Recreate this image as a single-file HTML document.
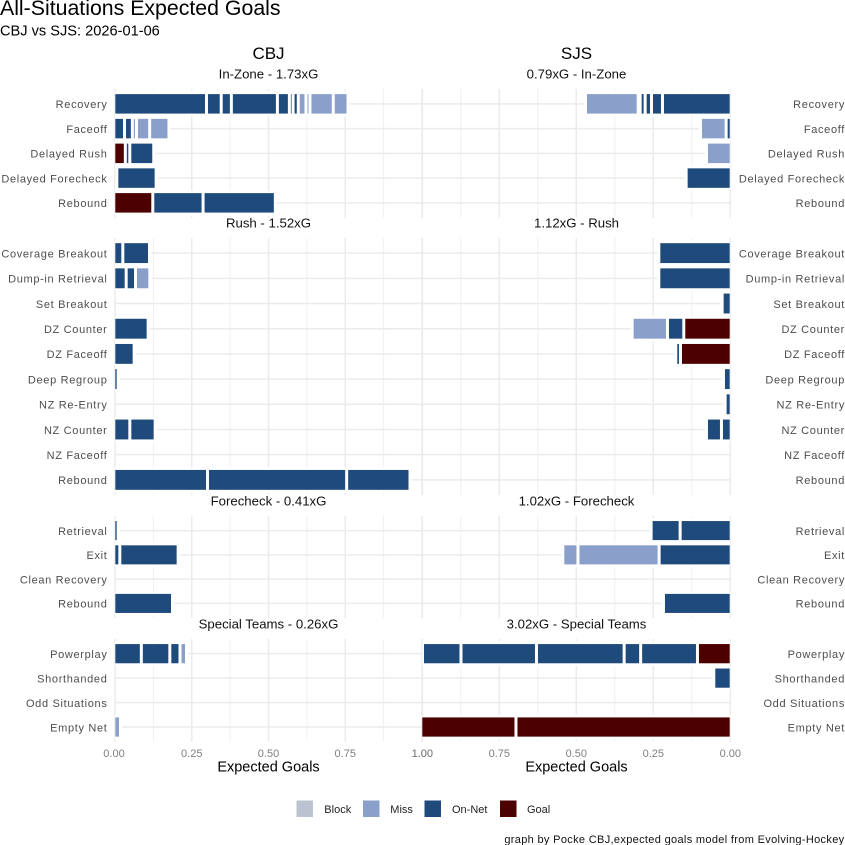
<!DOCTYPE html>
<html lang="en">
<head>
<meta charset="utf-8">
<title>All-Situations Expected Goals</title>
<style>
html,body{margin:0;padding:0;background:#fff;width:845px;height:845px;overflow:hidden}
svg{display:block;font-family:"Liberation Sans",Arial,sans-serif}
</style>
</head>
<body>
<svg id="chart" xmlns="http://www.w3.org/2000/svg" width="845" height="845" viewBox="0 0 845 845">
  <rect x="0" y="0" width="845" height="845" fill="#ffffff"/>
  <g id="grid"></g>
  <g id="bars"></g>
  <g id="labels"></g>
  <text x="0" y="15" font-size="21.3" fill="#000">All-Situations Expected Goals</text>
  <text x="0" y="35.5" font-size="14.6" fill="#000">CBJ vs SJS: 2026-01-06</text>
  <text x="268.5" y="59" font-size="17" text-anchor="middle" fill="#000">CBJ</text>
  <text x="576.5" y="59" font-size="17" text-anchor="middle" fill="#000">SJS</text>
  <text x="268.5" y="771.5" font-size="14.5" text-anchor="middle" fill="#000">Expected Goals</text>
  <text x="576.5" y="771.5" font-size="14.5" text-anchor="middle" fill="#000">Expected Goals</text>
  <g font-size="11" fill="#222">
    <rect x="296.5" y="800.5" width="16.5" height="16.5" fill="#bbc3d1"/>
    <text x="324.3" y="813">Block</text>
    <rect x="363" y="800.5" width="16.5" height="16.5" fill="#8a9fc9"/>
    <text x="390.3" y="813">Miss</text>
    <rect x="424.5" y="800.5" width="16.5" height="16.5" fill="#1f4b7c"/>
    <text x="452" y="813">On-Net</text>
    <rect x="500" y="800.5" width="16.5" height="16.5" fill="#4d0000"/>
    <text x="527" y="813">Goal</text>
  </g>
  <text x="844.5" y="843" font-size="11" text-anchor="end" letter-spacing="0.33" fill="#111">graph by Pocke CBJ,expected goals model from Evolving-Hockey</text>
</svg>
<script>
// ---- Data: categories (top to bottom), values per row (stacked outward from zero), outcome per segment
const inZoneCategories = ["Recovery","Faceoff","Delayed Rush","Delayed Forecheck","Rebound"];
const rushCategories = ["Coverage Breakout","Dump-in Retrieval","Set Breakout","DZ Counter","DZ Faceoff","Deep Regroup","NZ Re-Entry","NZ Counter","NZ Faceoff","Rebound"];
const forecheckCategories = ["Retrieval","Exit","Clean Recovery","Rebound"];
const specialCategories = ["Powerplay","Shorthanded","Odd Situations","Empty Net"];

const cbjInZoneValues = [[.298,.048,.033,.150,.039,.012,.017,.025,.013,.076,.048],[.031,.0255,.0136,.0428,.0629],[.0336,.0146,.078],[.006,.128],[.1231,.1638,.2354]];
const cbjInZoneOutcomes = [["O","O","O","O","O","O","O","M","M","M","M"],["O","O","M","M","M"],["G","O","O"],["O","O"],["G","O","O"]];
const sjsInZoneValues = [[.2202,.0357,.0206,.0162,.0065,.171],[.0135,.0833],[.0774],[.1434],[]];
const sjsInZoneOutcomes = [["O","O","O","O","M","M"],["O","M"],["M"],["O"],[]];

const cbjRushValues = [[.0255,.0869],[.0364,.0304,.0467],[],[.108],[.0624],[.0103],[],[.0483,.0825],[],[.3013,.4533,.2063]];
const cbjRushOutcomes = [["O","O"],["O","O","M"],[],["O"],["O"],["O"],[],["O","O"],[],["O","O","O"]];
const sjsRushValues = [[.2321],[.2321],[.0265],[.151,.053,.1147],[.1618,.0152],[.0222],[.0168],[.0287,.0487],[],[]];
const sjsRushOutcomes = [["O"],["O"],["O"],["G","O","M"],["G","O"],["O"],["O"],["O","O"],[],[]];

const cbjForecheckValues = [[.0103],[.0157,.19],[],[.1873]];
const cbjForecheckOutcomes = [["O"],["O","O"],[],["O"]];
const sjsForecheckValues = [[.1629,.0942],[.2311,.2635,.0492],[],[.217]];
const sjsForecheckOutcomes = [["O","O"],["O","M","M"],[],["O"]];

const cbjSpecialValues = [[.0858,.0928,.0331,.0212],[],[],[.0179]];
const cbjSpecialOutcomes = [["O","O","O","M"],[],[],["M"]];
const sjsSpecialValues = [[.1066,.1845,.0536,.2846,.2451,.125],[.0536],[],[.6959,.31]];
const sjsSpecialOutcomes = [["G","O","O","O","O","O"],["O"],[],["G","G"]];

const sectionNames = ["In-Zone","Rush","Forecheck","Special Teams"];
const cbjSectionXg = ["1.73","1.52","0.41","0.26"];
const sjsSectionXg = ["0.79","1.12","1.02","3.02"];
const xTickValues = [0,0.25,0.5,0.75,1];
const xMinorValues = [0.125,0.375,0.625,0.875];
const xTickLabels = ["0.00","0.25","0.50","0.75","1.00"];

// ---- Layout and scales
const SVGNS = "http://www.w3.org/2000/svg";
const outcomeColor = {O:"#1f4b7c", M:"#8a9fc9", G:"#4d0000", B:"#bbc3d1"};
const gridG = document.getElementById("grid");
const barsG = document.getElementById("bars");
const labelsG = document.getElementById("labels");
const LEFT0 = 115, LEFT1 = 422, RIGHT0 = 730.3, RIGHT1 = 422.3;
const LABEL_COLOR = "#4d4d4d";
function sxLeft(v){ return LEFT0 + v * (LEFT1 - LEFT0); }
function sxRight(v){ return RIGHT0 - v * (RIGHT0 - RIGHT1); }

function drawVerticalGrid(top, bottom, sx, side){
  xMinorValues.forEach(function(v){
    const l = document.createElementNS(SVGNS,"line");
    
    
    l.setAttribute("x1", sx(v)); l.setAttribute("x2", sx(v));
    l.setAttribute("y1", top); l.setAttribute("y2", bottom);
    l.setAttribute("stroke", "#eeeeee"); l.setAttribute("stroke-width", "0.9");
    gridG.appendChild(l);
  });
  xTickValues.forEach(function(v){
    const l = document.createElementNS(SVGNS,"line");
    
    
    l.setAttribute("x1", sx(v)); l.setAttribute("x2", sx(v));
    l.setAttribute("y1", top); l.setAttribute("y2", bottom);
    l.setAttribute("stroke", "#ebebeb"); l.setAttribute("stroke-width", "1.5");
    gridG.appendChild(l);
  });
}

function drawSegments(values, outcomes, y, pitch, sx, dir, catName, side, clampEdge){
  const haloH = pitch * 0.9 + 2.8;
  const fillH = pitch * 0.9 - 2.8;
  let cum = 0;
  values.forEach(function(v, i){
    const a = sx(cum), b = sx(cum + v);
    cum += v;
    // white outline (extends just past the outer end of the segment)
    let hx0 = a, hx1 = b + dir * 1.5;
    if (dir > 0) hx1 = Math.min(hx1, clampEdge); else hx1 = Math.max(hx1, clampEdge);
    const halo = document.createElementNS(SVGNS,"rect");
    
    
    halo.setAttribute("x", Math.min(hx0, hx1));
    halo.setAttribute("y", y - haloH / 2);
    halo.setAttribute("width", Math.abs(hx1 - hx0));
    halo.setAttribute("height", haloH);
    halo.setAttribute("fill", "#ffffff");
    barsG.appendChild(halo);
    let f0 = a + dir * (i === 0 ? (dir > 0 ? 0.3 : 0.6) : 1.5);
    let f1 = b - dir * 1.5;
    if (dir > 0) f1 = Math.min(f1, clampEdge); else f1 = Math.max(f1, clampEdge);
    if ((f1 - f0) * dir > 0) {
      const seg = document.createElementNS(SVGNS,"rect");
      
      
      seg.setAttribute("x", Math.min(f0, f1));
      seg.setAttribute("y", y - fillH / 2);
      seg.setAttribute("width", Math.abs(f1 - f0));
      seg.setAttribute("height", fillH);
      seg.setAttribute("fill", outcomeColor[outcomes[i]]);
      barsG.appendChild(seg);
    }
  });
}

function drawSection(idx, top, bottom, titleY, cats, leftVals, leftOut, rightVals, rightOut){
  const pitch = (bottom - top) / (cats.length + 0.2);
  drawVerticalGrid(top, bottom, sxLeft, 'cbj');
  drawVerticalGrid(top, bottom, sxRight, 'sjs');

  const titleL = document.createElementNS(SVGNS,"text");
  
  
  titleL.setAttribute("x", 268.5); titleL.setAttribute("y", titleY);
  titleL.setAttribute("font-size", "13.2"); titleL.setAttribute("text-anchor", "middle"); titleL.setAttribute("fill", "#111");
  titleL.textContent = sectionNames[idx] + " - " + cbjSectionXg[idx] + "xG";
  labelsG.appendChild(titleL);

  const titleR = document.createElementNS(SVGNS,"text");
  
  
  titleR.setAttribute("x", 576.5); titleR.setAttribute("y", titleY);
  titleR.setAttribute("font-size", "13.2"); titleR.setAttribute("text-anchor", "middle"); titleR.setAttribute("fill", "#111");
  titleR.textContent = sjsSectionXg[idx] + "xG - " + sectionNames[idx];
  labelsG.appendChild(titleR);

  cats.forEach(function(cat, r){
    const y = top + (0.6 + r) * pitch;
    const gl = document.createElementNS(SVGNS,"line");
    
    
    gl.setAttribute("x1", LEFT0); gl.setAttribute("x2", RIGHT0);
    gl.setAttribute("y1", y); gl.setAttribute("y2", y);
    gl.setAttribute("stroke", "#ebebeb"); gl.setAttribute("stroke-width", "1.5");
    gridG.appendChild(gl);

    const lbl = document.createElementNS(SVGNS,"text");
    
    
    lbl.setAttribute("x", 107.5); lbl.setAttribute("y", y + 4.3);
    lbl.setAttribute("font-size", "11"); lbl.setAttribute("text-anchor", "end");
    lbl.setAttribute("letter-spacing", "0.67"); lbl.setAttribute("fill", LABEL_COLOR);
    lbl.textContent = cat;
    labelsG.appendChild(lbl);

    const lbr = document.createElementNS(SVGNS,"text");
    
    
    lbr.setAttribute("x", 845); lbr.setAttribute("y", y + 4.3);
    lbr.setAttribute("font-size", "11"); lbr.setAttribute("text-anchor", "end");
    lbr.setAttribute("letter-spacing", "0.67"); lbr.setAttribute("fill", LABEL_COLOR);
    lbr.textContent = cat;
    labelsG.appendChild(lbr);

    drawSegments(leftVals[r], leftOut[r], y, pitch, sxLeft, 1, cat, 'cbj', LEFT1);
    drawSegments(rightVals[r], rightOut[r], y, pitch, sxRight, -1, cat, 'sjs', RIGHT1);
  });
}

drawSection(0, 89, 217.7, 78.5, inZoneCategories, cbjInZoneValues, cbjInZoneOutcomes, sjsInZoneValues, sjsInZoneOutcomes);
drawSection(1, 238, 495, 227.5, rushCategories, cbjRushValues, cbjRushOutcomes, sjsRushValues, sjsRushOutcomes);
drawSection(2, 516, 618, 505.5, forecheckCategories, cbjForecheckValues, cbjForecheckOutcomes, sjsForecheckValues, sjsForecheckOutcomes);
drawSection(3, 639, 741.7, 628.5, specialCategories, cbjSpecialValues, cbjSpecialOutcomes, sjsSpecialValues, sjsSpecialOutcomes);

xTickValues.forEach(function(v, i){
  const tl = document.createElementNS(SVGNS,"text");
  
  
  tl.setAttribute("x", i === 4 ? sxRight(v) : sxLeft(v) - (i === 0 ? 1 : 0)); tl.setAttribute("y", 757);
  tl.setAttribute("font-size", "11"); tl.setAttribute("text-anchor", "middle"); tl.setAttribute("fill", "#7f7f7f");
  tl.textContent = xTickLabels[i];
  labelsG.appendChild(tl);
  const tr = document.createElementNS(SVGNS,"text");
  
  
  tr.setAttribute("x", sxRight(v)); tr.setAttribute("y", 757);
  tr.setAttribute("font-size", "11"); tr.setAttribute("text-anchor", "middle"); tr.setAttribute("fill", "#7f7f7f");
  tr.textContent = xTickLabels[i];
  labelsG.appendChild(tr);
});
</script>
</body>
</html>
